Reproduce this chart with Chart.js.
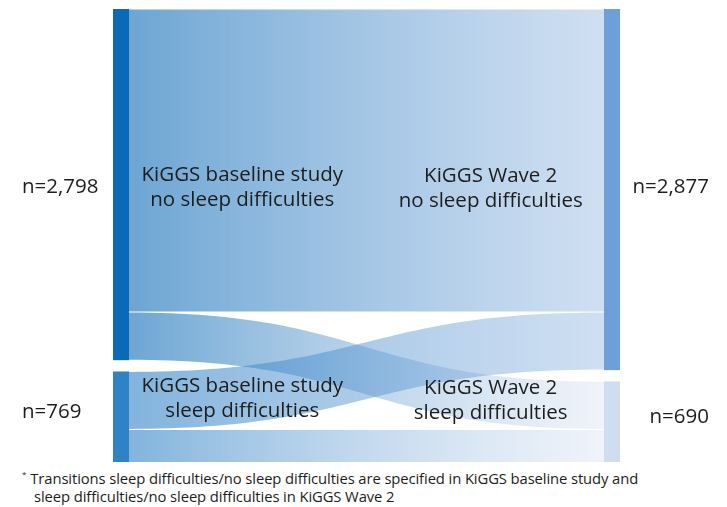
<!DOCTYPE html>
<html>
<head>
<meta charset="utf-8">
<script src="https://cdn.jsdelivr.net/npm/chart.js@4.4.0/dist/chart.umd.min.js"></script>
<style>
  body { margin: 0; background: #fff; }
  #wrap { position: relative; width: 727px; height: 462px; overflow: hidden; }
  #box { position: absolute; left: 0; top: 0; width: 727px; height: 470px; }
  #note { font-family: 'Open Sans', sans-serif; font-size: 14.8px; line-height: 18px; color: #1d1d1b;
          margin: 3px 0 0 22px; letter-spacing: -0.1px; }
  #note sup { font-size: 8px; vertical-align: 7px; margin-right: 4px; }
  #note .l2 { padding-left: 12px; }
</style>
</head>
<body>
<div id="wrap"><div id="box"><canvas id="chart"></canvas></div></div>
<div id="note"><sup>*</sup>Transitions sleep difficulties/no sleep difficulties are specified in KiGGS baseline study and<br><span class="l2">sleep difficulties/no sleep difficulties in KiGGS Wave 2</span></div>
<script>
// nodes: 0,1 = baseline study, 2,3 = Wave 2
var nodeLabels = ['KiGGS baseline study\nno sleep difficulties', 'KiGGS baseline study\nsleep difficulties',
                  'KiGGS Wave 2\nno sleep difficulties', 'KiGGS Wave 2\nsleep difficulties'];
var nodeCounts = ['n=2,798', 'n=769', 'n=2,877', 'n=690'];
var nodeColumn = [0, 0, 1, 1];
var nodeColors = ['#0a6ab6', '#2f82c6', '#6f9fd8', '#d0dcf0'];

// flows between the two waves
var flowFrom = [0, 0, 1, 1];
var flowTo = [2, 3, 2, 3];
var flowValues = [2415, 383, 462, 307];

var nodePad = 90;

function rgba(hex, a) {
    var n = parseInt(hex.slice(1), 16);
    return 'rgba(' + (n >> 16) + ',' + ((n >> 8) & 255) + ',' + (n & 255) + ',' + a + ')';
}

// totals per node
var nodeTotals = nodeLabels.map(function(l, i) {
    var out = 0, inn = 0;
    for (var f = 0; f < flowValues.length; f++) {
        if (flowFrom[f] == i) out += flowValues[f];
        if (flowTo[f] == i) inn += flowValues[f];
    }
    return Math.max(out, inn);
});

// stacking of nodes in each column (value units)
var nodeStart = [];
var colSum = [0, 0];
nodeLabels.forEach(function(l, i) {
    var c = nodeColumn[i];
    nodeStart[i] = colSum[c];
    colSum[c] += nodeTotals[i] + nodePad;
});
var yMax = Math.max(colSum[0], colSum[1]) - nodePad;

var sankeyPlugin = {
    id: 'sankey',
    afterDatasetsDraw: function(chart, args, opts) {
        var ctx = chart.ctx;
        var xs = chart.scales.x, ys = chart.scales.y;
        var w = opts.nodeWidth;
        var colX = [xs.getPixelForValue(0), xs.getPixelForValue(1) - w];

        // flows
        var outOff = nodeStart.slice(), inOff = nodeStart.slice();
        for (var f = 0; f < flowValues.length; f++) {
            var s = flowFrom[f], t = flowTo[f], v = flowValues[f];
            var x0 = colX[nodeColumn[s]] + w, x1 = colX[nodeColumn[t]];
            var sy0 = ys.getPixelForValue(outOff[s]) + 0.5, sy1 = ys.getPixelForValue(outOff[s] + v) - 0.5;
            var ty0 = ys.getPixelForValue(inOff[t]) + 0.5, ty1 = ys.getPixelForValue(inOff[t] + v) - 0.5;
            outOff[s] += v; inOff[t] += v;
            var xm = (x0 + x1) / 2;
            var grad = ctx.createLinearGradient(x0, 0, x1, 0);
            grad.addColorStop(0, rgba(nodeColors[s], 0.6));
            grad.addColorStop(1, rgba(nodeColors[t], 0.33));
            ctx.beginPath();
            ctx.moveTo(x0, sy0);
            ctx.bezierCurveTo(xm, sy0, xm, ty0, x1, ty0);
            ctx.lineTo(x1, ty1);
            ctx.bezierCurveTo(xm, ty1, xm, sy1, x0, sy1);
            ctx.closePath();
            ctx.fillStyle = grad;
            ctx.fill();
        }

        // nodes and labels
        ctx.textBaseline = 'middle';
        nodeLabels.forEach(function(label, i) {
            var c = nodeColumn[i];
            var top = ys.getPixelForValue(nodeStart[i]);
            var bot = ys.getPixelForValue(nodeStart[i] + nodeTotals[i]);
            ctx.fillStyle = nodeColors[i];
            ctx.fillRect(colX[c], top, w, bot - top);

            var cy = (top + bot) / 2 + opts.labelShift[i];
            ctx.fillStyle = '#1d1d1b';
            ctx.font = opts.font;
            ctx.textAlign = 'center';
            var lx = xs.getPixelForValue(opts.labelX[c]);
            var lines = label.split('\n');
            lines.forEach(function(line, k) {
                ctx.fillText(line, lx, cy + (k - (lines.length - 1) / 2) * 25);
            });

            var ny = (top + bot) / 2 + opts.countShift[i];
            if (c == 0) {
                ctx.textAlign = 'left';
                ctx.fillText(nodeCounts[i], 22, ny);
            } else {
                ctx.textAlign = 'right';
                ctx.fillText(nodeCounts[i], 709, ny);
            }
        });
    }
};

new Chart(document.getElementById('chart'), {
    type: 'scatter',
    data: { datasets: [] },
    options: {
        responsive: true,
        maintainAspectRatio: false,
        animation: false,
        layout: { autoPadding: false, padding: { left: 113, right: 107, top: 9, bottom: 2 } },
        scales: {
            x: { type: 'linear', min: 0, max: 1, display: false },
            y: { type: 'linear', min: 0, max: yMax, reverse: true, display: false }
        },
        plugins: {
            legend: { display: false },
            tooltip: { enabled: false },
            sankey: {
                nodeWidth: 16,
                font: '20.5px "Open Sans"',
                labelX: [0.255, 0.745],
                labelShift: [3, -21, -1, -24],
                countShift: [3, -8, -2, -8]
            }
        }
    },
    plugins: [sankeyPlugin]
});
</script>
</body>
</html>
